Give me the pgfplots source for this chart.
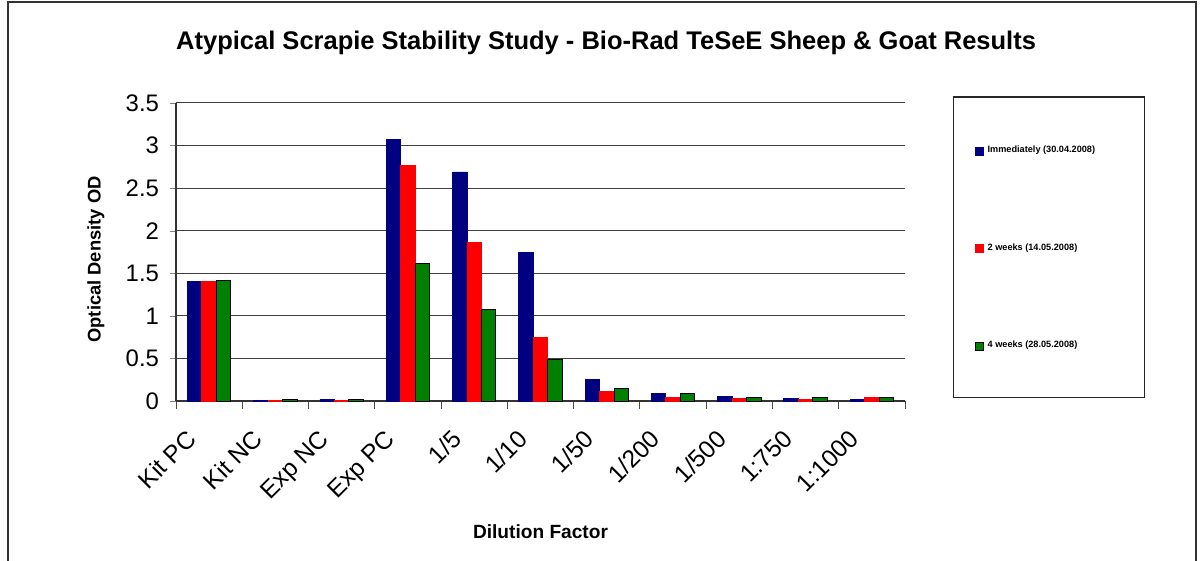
\documentclass[border=0pt]{standalone}
\usepackage{pgfplots}
\pgfplotsset{compat=1.18}
\usepackage{fontspec}
\setmainfont{Liberation Sans}
\definecolor{cblue}{RGB}{0,0,128}
\definecolor{cred}{RGB}{255,0,0}
\definecolor{cgreen}{RGB}{0,128,0}
\begin{document}
\begin{tikzpicture}
\useasboundingbox (0,0) rectangle (600bp,280.5bp);
\draw[black!80, line width=0.6bp] (4bp,0) -- (4bp,279.5bp) -- (598bp,279.5bp) -- (598bp,0);
\begin{axis}[
  at={(88bp,80bp)}, anchor=south west,
  scale only axis, width=364.5bp, height=149bp,
  clip=false,
  ybar=0pt, bar width=7.25bp,
  xmin=-0.5, xmax=10.5, ymin=0, ymax=3.5,
  xtick={0,...,10},
  xticklabels={Kit PC,Kit NC,Exp NC,Exp PC,1/5,1/10,1/50,1/200,1/500,1:750,1:1000},
  minor xtick={-0.5,0.5,...,10.5},
  major x tick style={draw=none},
  minor x tick style={black!70, line width=0.5bp},
  ytick={0,0.5,...,3.5},
  yticklabels={0,0.5,1,1.5,2,2.5,3,3.5},
  tick align=outside, tick pos=left,
  major tick length=3bp, minor tick length=4bp,
  ymajorgrids, grid style={black!75, line width=0.5bp},
  axis x line*=bottom, axis y line*=left,
  axis line style={black!80, line width=0.6bp},
  /pgf/number format/assume math mode=true,
  yticklabel style={font=\fontsize{12}{12}\selectfont, xshift=-2bp},
  xticklabel style={font=\fontsize{12.3}{12.3}\selectfont, xshift=-12bp, yshift=-9bp, rotate=45, anchor=north east, inner sep=1bp},
  title={\bfseries Atypical Scrapie Stability Study - Bio-Rad TeSeE Sheep \& Goat Results},
  title style={font=\fontsize{12.8}{14}\selectfont, at={(axis description cs:0.59,1.16)}, anchor=center},
  xlabel={\bfseries Dilution Factor},
  xlabel style={font=\fontsize{9.6}{11}\selectfont, at={(axis description cs:0.5,-0.44)}, anchor=center},
  ylabel={\bfseries Optical Density OD},
  ylabel style={font=\fontsize{9.2}{11}\selectfont, at={(axis description cs:-0.11,0.475)}, anchor=center, rotate=0},
  legend style={draw=none, fill=none, at={(axis description cs:1.095,0.87)}, anchor=north west,
    font=\fontsize{4.6}{5}\selectfont\bfseries, row sep=40bp, inner sep=0pt},
  legend cell align=left,
  legend image code/.code={\draw[#1] (0bp,-2bp) rectangle (4bp,2bp);},
]
\addplot[fill=cblue, draw=cblue] coordinates {(0,1.40) (1,0.01) (2,0.02) (3,3.07) (4,2.69) (5,1.74) (6,0.25) (7,0.09) (8,0.05) (9,0.03) (10,0.02)};
\addplot[fill=cred, draw=cred] coordinates {(0,1.40) (1,0.01) (2,0.01) (3,2.77) (4,1.86) (5,0.75) (6,0.11) (7,0.04) (8,0.03) (9,0.02) (10,0.04)};
\addplot[fill=cgreen, draw=black, line width=0.5bp] coordinates {(0,1.41) (1,0.02) (2,0.02) (3,1.61) (4,1.07) (5,0.49) (6,0.15) (7,0.09) (8,0.04) (9,0.04) (10,0.04)};
\legend{Immediately (30.04.2008),2 weeks (14.05.2008),4 weeks (28.05.2008)}
\draw[black!85, line width=0.6bp] (axis description cs:1.066,1.02) rectangle (axis description cs:1.329,0.013);
\end{axis}
\end{tikzpicture}
\end{document}
